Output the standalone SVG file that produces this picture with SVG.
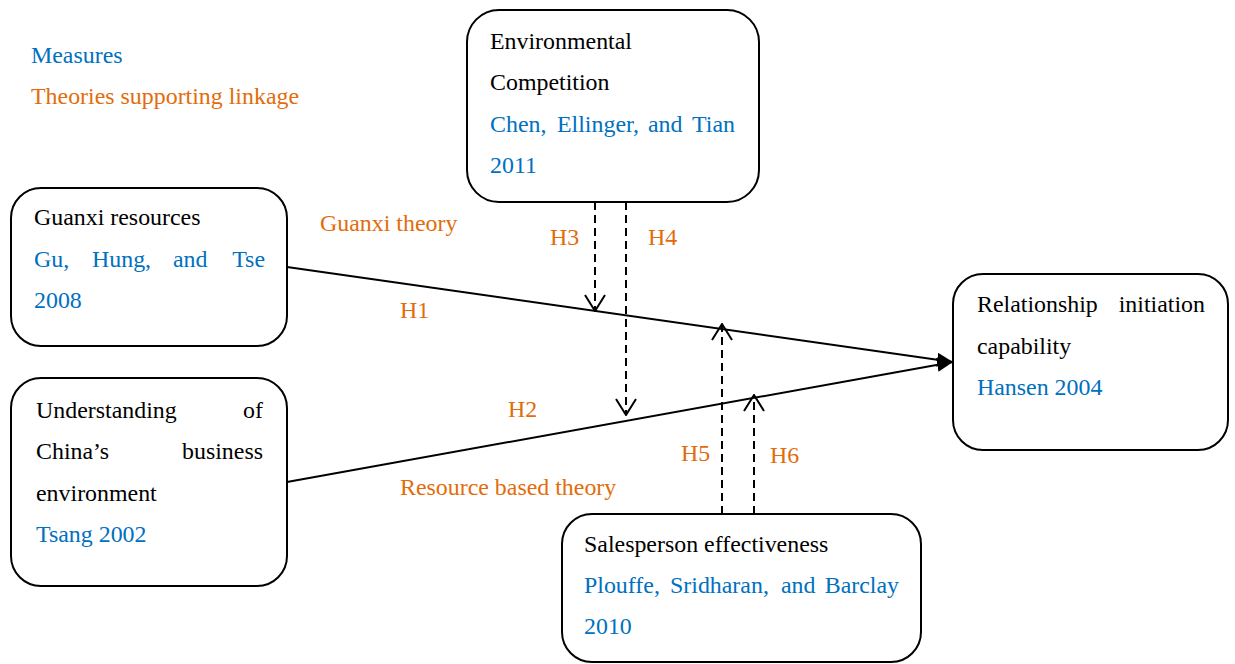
<svg xmlns="http://www.w3.org/2000/svg" width="1235" height="664" viewBox="0 0 1235 664">
  <style>
    text { font-family: "Liberation Serif", "Times New Roman", serif; font-size: 23.9px; }
    .k { fill: #000000; }
    .b { fill: #0070C0; }
    .o { fill: #E36C0A; }
    .box { fill: #ffffff; stroke: #000000; stroke-width: 2; }
    .solid { fill: none; stroke: #000000; stroke-width: 2; }
    .dash { fill: none; stroke: #000000; stroke-width: 2; stroke-dasharray: 8 5; }
  </style>
  <defs>
    <marker id="filled" viewBox="0 0 16 14" refX="16" refY="7" markerWidth="16" markerHeight="14" markerUnits="userSpaceOnUse" orient="auto">
      <path d="M0,0 L16,7 L0,14 Z" fill="#000000"/>
    </marker>
    <marker id="open" viewBox="0 0 18 24" refX="17" refY="12" markerWidth="18" markerHeight="24" markerUnits="userSpaceOnUse" orient="auto">
      <path d="M1,2 L17,12 L1,22" fill="none" stroke="#000000" stroke-width="2"/>
    </marker>
  </defs>

  <rect width="1235" height="664" fill="#ffffff"/>

  <!-- legend -->
  <g id="legend">
    <text class="b" x="31" y="63">Measures</text>
    <text class="o" x="31" y="104">Theories supporting linkage</text>
  </g>

  <!-- connectors -->
  <g id="connectors">
    <line class="solid" x1="287" y1="267" x2="953" y2="362" marker-end="url(#filled)"/>
    <line class="solid" x1="287" y1="482" x2="953" y2="362" marker-end="url(#filled)"/>
    <line class="dash" x1="595" y1="202" x2="595" y2="311" marker-end="url(#open)"/>
    <line class="dash" x1="626" y1="202" x2="626" y2="415" marker-end="url(#open)"/>
    <line class="dash" x1="722" y1="514" x2="722" y2="324" marker-end="url(#open)"/>
    <line class="dash" x1="754" y1="514" x2="754" y2="395" marker-end="url(#open)"/>
    <text class="o" x="320" y="231">Guanxi theory</text>
    <text class="o" x="400" y="318">H1</text>
    <text class="o" x="508" y="417">H2</text>
    <text class="o" x="400" y="495">Resource based theory</text>
    <text class="o" x="550" y="245">H3</text>
    <text class="o" x="648" y="245">H4</text>
    <text class="o" x="681" y="461">H5</text>
    <text class="o" x="770" y="463">H6</text>
  </g>

  <g id="environmental-competition">
    <rect class="box" x="467" y="10" width="292" height="192" rx="32" ry="32"/>
    <text class="k" x="490" y="49">Environmental</text>
    <text class="k" x="490" y="90">Competition</text>
    <text class="b" x="490" y="132">Chen,</text>
    <text class="b" x="557" y="132">Ellinger,</text>
    <text class="b" x="648" y="132">and</text>
    <text class="b" x="735" y="132" text-anchor="end">Tian</text>
    <text class="b" x="490" y="173">2011</text>
  </g>

  <g id="guanxi-resources">
    <rect class="box" x="11" y="188" width="276" height="158" rx="30" ry="30"/>
    <text class="k" x="34" y="225">Guanxi resources</text>
    <text class="b" x="34" y="267">Gu,</text>
    <text class="b" x="92" y="267">Hung,</text>
    <text class="b" x="173" y="267">and</text>
    <text class="b" x="265" y="267" text-anchor="end">Tse</text>
    <text class="b" x="34" y="308">2008</text>
  </g>

  <g id="understanding-china">
    <rect class="box" x="11" y="378" width="276" height="208" rx="30" ry="30"/>
    <text class="k" x="36" y="418">Understanding</text>
    <text class="k" x="263" y="418" text-anchor="end">of</text>
    <text class="k" x="36" y="459">China’s</text>
    <text class="k" x="263" y="459" text-anchor="end">business</text>
    <text class="k" x="36" y="501">environment</text>
    <text class="b" x="36" y="542">Tsang 2002</text>
  </g>

  <g id="relationship-initiation">
    <rect class="box" x="953" y="274" width="275" height="176" rx="30" ry="30"/>
    <text class="k" x="977" y="312">Relationship</text>
    <text class="k" x="1205" y="312" text-anchor="end">initiation</text>
    <text class="k" x="977" y="354">capability</text>
    <text class="b" x="977" y="395">Hansen 2004</text>
  </g>

  <g id="salesperson-effectiveness">
    <rect class="box" x="562" y="514" width="359" height="148" rx="30" ry="30"/>
    <text class="k" x="584" y="552">Salesperson effectiveness</text>
    <text class="b" x="584" y="593">Plouffe,</text>
    <text class="b" x="670" y="593">Sridharan,</text>
    <text class="b" x="781" y="593">and</text>
    <text class="b" x="899" y="593" text-anchor="end">Barclay</text>
    <text class="b" x="584" y="634">2010</text>
  </g>
</svg>
